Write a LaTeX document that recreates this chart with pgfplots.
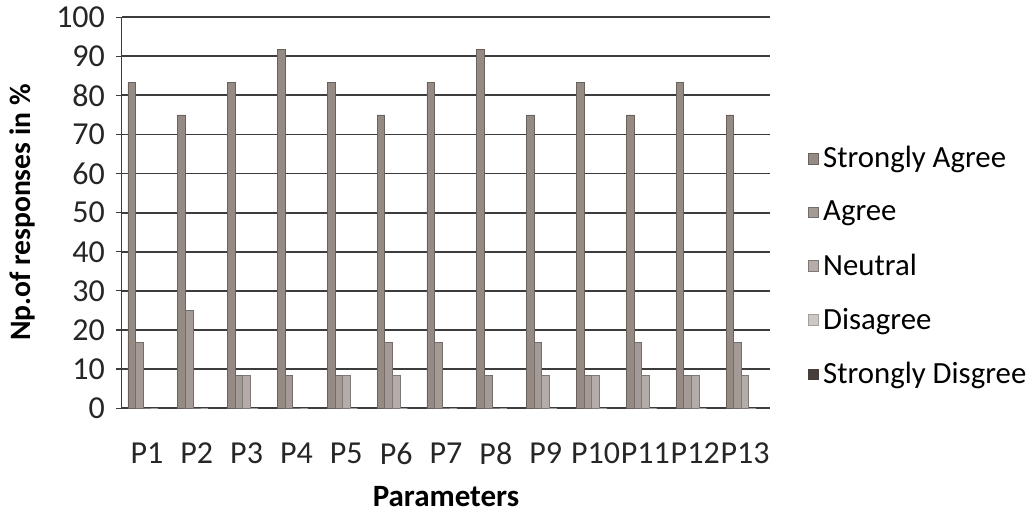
\documentclass[border=0pt]{standalone}
\usepackage{pgfplots}
\pgfplotsset{compat=1.18}
\usepackage{fontspec}
\setmainfont{Carlito}
\definecolor{saC}{RGB}{150,138,132}
\definecolor{agC}{RGB}{165,155,150}
\definecolor{neC}{RGB}{180,172,168}
\definecolor{diC}{RGB}{205,200,196}
\definecolor{sdC}{RGB}{70,62,58}
\definecolor{gridC}{RGB}{60,60,60}
\begin{document}
\begin{tikzpicture}
\path (-61pt,-52.5pt) rectangle (456pt,204pt);
\begin{axis}[
  scale only axis,
  width=324pt, height=195.5pt,
  ybar=0pt, bar width=3.8pt,
  xmin=-0.5, xmax=12.5,
  ymin=0, ymax=100,
  xtick={0,...,12},
  xticklabels={P1,P2,P3,P4,P5,P6,P7,P8,P9,P10,P11,P12,P13},
  ytick={0,10,...,100},
  /pgf/number format/assume math mode=true,
  ymajorgrids,
  grid style={gridC, line width=0.9pt},
  axis x line*=bottom, axis y line*=left,
  x axis line style={gridC, line width=0.9pt, -},
  y axis line style={gridC, line width=0.5pt, -},
  xtick style={draw=none},
  ytick style={gridC, line width=0.6pt},
  tick align=outside, major tick length=3pt,
  tick label style={font=\fontsize{16}{18}\selectfont, text=black!85},
  yticklabel style={xshift=-2pt},
  xticklabel style={yshift=-14pt, inner sep=0pt},
  ylabel={\textbf{Np.of responses in \%}},
  ylabel style={at={(axis description cs:-0.154,0.5)}, anchor=center, font=\fontsize{14.8}{17}\selectfont},
  xlabel={\textbf{Parameters}},
  xlabel style={at={(axis description cs:0.5,0)}, anchor=center, yshift=-44pt, font=\fontsize{15.5}{18}\selectfont},
  legend style={at={(axis description cs:1.058,0.362)}, anchor=west, draw=none, fill=none,
    inner sep=0pt, outer sep=0pt,
    font=\fontsize{15.4}{19}\selectfont, row sep=11pt, cells={anchor=west}},
  legend image code/.code={\draw[#1] (0pt,-2.7pt) rectangle (5.4pt,2.7pt);},
]
\addplot[fill=saC, draw=saC!70!black] coordinates {(0,83.3)(1,75)(2,83.3)(3,91.7)(4,83.3)(5,75)(6,83.3)(7,91.7)(8,75)(9,83.3)(10,75)(11,83.3)(12,75)};
\addplot[fill=agC, draw=agC!70!black] coordinates {(0,16.7)(1,25)(2,8.3)(3,8.3)(4,8.3)(5,16.7)(6,16.7)(7,8.3)(8,16.7)(9,8.3)(10,16.7)(11,8.3)(12,16.7)};
\addplot[fill=neC, draw=neC!70!black] coordinates {(0,0)(1,0)(2,8.3)(3,0)(4,8.3)(5,8.3)(6,0)(7,0)(8,8.3)(9,8.3)(10,8.3)(11,8.3)(12,8.3)};
\addplot[fill=diC, draw=diC!80!black] coordinates {(0,0)(1,0)(2,0)(3,0)(4,0)(5,0)(6,0)(7,0)(8,0)(9,0)(10,0)(11,0)(12,0)};
\addplot[fill=sdC, draw=sdC] coordinates {(0,0)(1,0)(2,0)(3,0)(4,0)(5,0)(6,0)(7,0)(8,0)(9,0)(10,0)(11,0)(12,0)};
\legend{Strongly Agree, Agree, Neutral, Disagree, Strongly Disgree}
\end{axis}
\end{tikzpicture}
\end{document}
